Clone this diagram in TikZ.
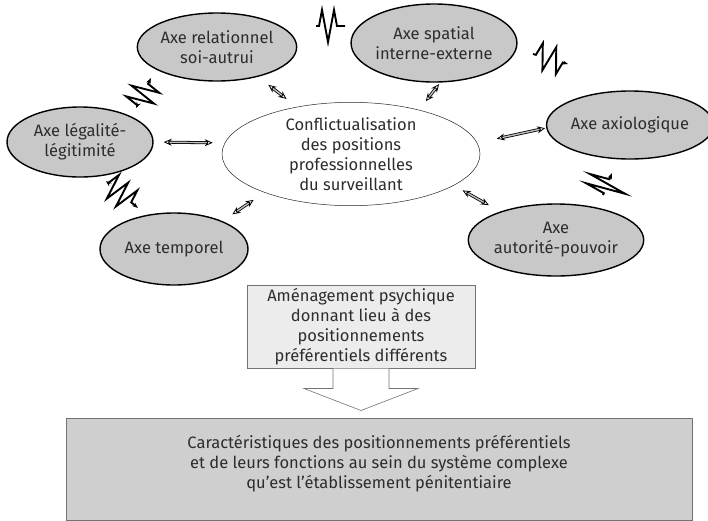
\documentclass[tikz,border=0pt]{standalone}
\usepackage{fontspec}
\setmainfont{Fira Sans}
\usetikzlibrary{arrows.meta,shapes.geometric,decorations.pathmorphing,positioning,calc}
\definecolor{axegray}{RGB}{200,200,200}
\definecolor{boxgray}{RGB}{236,236,236}
\definecolor{basegray}{RGB}{207,207,207}
\definecolor{txtgray}{RGB}{45,45,45}

\begin{document}
\begin{tikzpicture}[x=1pt,y=-1pt,font=\fontsize{16.5}{20}\selectfont,text=txtgray]
  \tikzstyle{axe}=[ellipse,draw=black,line width=1.4pt,fill=axegray,align=center,inner sep=0pt]
  \tikzstyle{centre}=[ellipse,draw=black!85,line width=0.5pt,fill=white,align=center,inner sep=0pt]
  \tikzstyle{dbl}=[draw=black,double=black!25,double distance=1.4pt,line width=0.8pt,{Stealth[open,length=8pt,width=7pt]}-{Stealth[open,length=8pt,width=7pt]}]
  \tikzstyle{bolt}=[draw=black,line width=1.9pt,line join=miter,decorate,decoration={zigzag,amplitude=7pt,segment length=11pt,pre length=3pt,post length=3pt}]
  \tikzstyle{rect}=[rectangle,draw=black!55,line width=0.6pt,align=center]

  \useasboundingbox (0,0) rectangle (708,520);

  % centre et axes
  \node[centre,minimum width=258pt,minimum height=92pt] (C) at (351,154) {Conflictualisation\\des positions\\professionnelles\\du surveillant};
  \node[axe,minimum width=145pt,minimum height=68pt] (rel)  at (217,47)  {Axe relationnel\\soi-autrui};
  \node[axe,minimum width=148pt,minimum height=78pt] (spa)  at (434,43)  {Axe spatial\\interne-externe};
  \node[axe,minimum width=146pt,minimum height=70pt] (leg)  at (80,142)  {Axe légalité-\\légitimité};
  \node[axe,minimum width=155pt,minimum height=68pt] (axio) at (630,125) {Axe axiologique};
  \node[axe,minimum width=148pt,minimum height=72pt] (temp) at (174,249) {Axe temporel};
  \node[axe,minimum width=158pt,minimum height=72pt] (aut)  at (556,240) {Axe\\autorité-pouvoir};

  % fleches doubles
  \draw[dbl,shorten <=13pt,shorten >=13pt] (C.139) -- (rel.-36);
  \draw[dbl,shorten <=11pt,shorten >=2pt]  (C.33)  -- (spa.-81);
  \draw[dbl,shorten <=12pt,shorten >=10pt] (C.175) -- (leg.0);
  \draw[dbl,shorten <=20pt,shorten >=1pt]  (C.5)   -- (axio.182);
  \draw[dbl,shorten <=13pt,shorten >=12pt] (C.204) -- (temp.30);
  \draw[dbl,shorten <=10pt,shorten >=13pt] (C.-17) -- (aut.153);

  % eclairs
  \coordinate (b1a) at (136,108); \coordinate (b1b) at (151,78);
  \coordinate (b2a) at (316,26);  \coordinate (b2b) at (345,26);
  \coordinate (b3a) at (533,54);  \coordinate (b3b) at (568,64);
  \coordinate (b4a) at (603,195); \coordinate (b4b) at (612,173);
  \coordinate (b5a) at (106,181); \coordinate (b5b) at (138,208);
  \draw[bolt,decoration={amplitude=14pt,segment length=12pt},{Stealth[length=6pt]}-{Stealth[length=6pt]}] (b1a) -- (b1b);
  \draw[bolt,decoration={amplitude=16pt,segment length=12pt}] (b2a) -- (b2b);
  \draw[bolt,decoration={amplitude=13pt,segment length=14pt},-{Stealth[length=5pt]}] (b3a) -- (b3b);
  \draw[bolt,decoration={amplitude=20pt,segment length=10pt,pre length=2pt,post length=2pt},-{Stealth[length=6pt]}] (b4a) -- (b4b);
  \draw[bolt,decoration={amplitude=13pt,segment length=12pt},{Stealth[length=6pt]}-{Stealth[length=6pt]}] (b5a) -- (b5b);

  % amenagement et resultat
  \node[rect,fill=boxgray,minimum width=228pt,minimum height=83pt] (amen) at (361,326.5) {Aménagement psychique\\donnant lieu à des\\positionnements\\préférentiels différents};
  \node[rect,fill=basegray,minimum width=626pt,minimum height=102pt,below=49pt of amen,xshift=18pt] (res) {Caractéristiques des positionnements préférentiels\\et de leurs fonctions au sein du système complexe\\qu’est l’établissement pénitentiaire\\[-6pt]};

  \draw[draw=black!55,fill=white,line width=0.6pt] ($(amen.south)+(-28,0)$) -- ($(amen.south)+(-28,20)$) -- ($(amen.south)+(-57,20)$)
    -- ($(amen.south)+(0,42)$) -- ($(amen.south)+(57,20)$) -- ($(amen.south)+(28,20)$) -- ($(amen.south)+(28,0)$);
\end{tikzpicture}
\end{document}
